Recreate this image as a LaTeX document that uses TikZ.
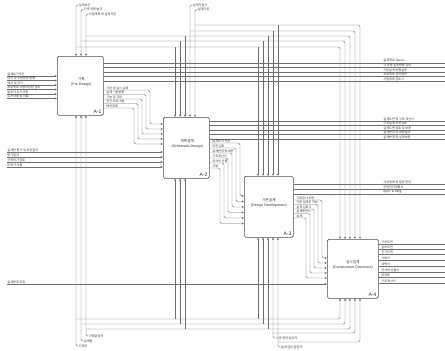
\documentclass[tikz,border=0pt]{standalone}
\usepackage{fontspec}
\setmainfont{Liberation Sans}
\newfontfamily\kr{Noto Sans CJK KR}
\usetikzlibrary{arrows.meta,calc}
\definecolor{lc}{HTML}{6E6E6E}
\definecolor{bc}{HTML}{4A4A4A}
\definecolor{tc}{HTML}{2E2E2E}
\begin{document}
\begin{tikzpicture}[x=1pt,y=-1pt,
  ln/.style={draw=lc,line width=0.45pt,rounded corners=1.5pt},
  arr/.style={ln,-{Stealth[length=2.4pt,width=2.1pt]}},
  box/.style={draw=bc,line width=0.6pt,rounded corners=1.5pt,fill=white,anchor=north west,inner sep=0pt},
  lab/.style={font=\kr\fontsize{3.1}{3.4}\selectfont,text=tc,inner sep=0.25pt,anchor=south west},
  ttl/.style={font=\fontsize{3.6}{4.6}\selectfont,text=tc,align=center,inner sep=0pt},
  num/.style={font=\fontsize{5}{5}\selectfont,text=tc,inner sep=0pt,anchor=south east}]
\fill[white] (0,0) rectangle (445,351);
\useasboundingbox (0,0) rectangle (445,351);

% activity boxes
\node[box,minimum width=46pt,minimum height=59pt] (b1) at (57,56) {};
\node[box,minimum width=46pt,minimum height=61pt] (b2) at (163,117) {};
\node[box,minimum width=49pt,minimum height=61pt] (b3) at (244,176) {};
\node[box,minimum width=51pt,minimum height=59pt] (b4) at (327,239) {};
\node[ttl] (t1) at ($(b1.center)+(1,-4)$) {{\kr 기획}\\(Pre Design)};
\node[ttl] (t2) at ($(b2.center)+(1,-4)$) {{\kr 계획설계}\\(Schematic Design)};
\node[ttl] (t3) at ($(b3.center)+(0,-4)$) {{\kr 기본설계}\\(Design Development)};
\node[ttl] (t4) at ($(b4.center)+(0,-4)$) {{\kr 실시설계}\\(Construction Document)};
\node[num] (n1) at ($(b1.south east)+(-2,-1.5)$) {A-1};
\node[num] (n2) at ($(b2.south east)+(-2,-1.5)$) {A-2};
\node[num] (n3) at ($(b3.south east)+(-2,-1.5)$) {A-3};
\node[num] (n4) at ($(b4.south east)+(-2,-1.5)$) {A-4};

% inputs of A1
\foreach \i/\y/\t in {1/76/설계요구조건,2/80.5/대지 및 주변환경 현황,3/85/예산 및 공기,4/89.5/프로젝트 사업타당성 검토,5/94/발주자 요구사항,6/98.5/유사사례 및 자료}{
  \node[lab] (ia\i) at (7,\y) {\t};
  \draw[arr] (ia\i.south west) -- (ia\i.south west -| b1.west);
}
% controls of A1
\foreach \i/\x/\y/\t in {1/76/5/설계요건,2/81/9.5/건축 관련 법규,3/86/14/사업계획 및 설계지침}{
  \node[lab,anchor=west] (ca\i) at (\x+2.5,\y) {\t};
  \draw[arr] (ca\i.west) -| (\x,0 |- b1.north);
}
% mechanisms of A1
\foreach \i/\x/\y/\t in {1/76/346/건축주,2/81/341/설계팀,3/86/336/기획담당자}{
  \node[lab,anchor=west] (ma\i) at (\x+2.5,\y) {\t};
  \draw[arr] (ma\i.west) -| (\x,0 |- b1.south);
}
% controls of A2 from top labels
\foreach \i/\x/\y/\t in {4/190/5/설계지침서,5/195/9.5/설계기준}{
  \node[lab,anchor=west] (cb\i) at (\x+2.5,\y) {\t};
  \draw[arr] (cb\i.west) -| (\x,0 |- b2.north);
}
% shared control lines
\foreach \y/\xs/\xa/\xb/\xc in {47/76/175/258/340,41/81/180/263/345,36/86/185/268/350}{
  \coordinate (ts\y) at (\xs,\y);
  \draw[arr] (ts\y) -| (\xc,0 |- b4.north);
  \draw[arr] (\xa,\y) -- (\xa,0 |- b2.north);
  \draw[arr] (\xb,\y) -- (\xb,0 |- b3.north);
}
\foreach \y/\xs/\xb/\xc in {31/190/273/355,25/195/278/360}{
  \coordinate (tu\y) at (\xs,\y);
  \draw[arr] (tu\y) -| (\xc,0 |- b4.north);
  \draw[arr] (\xb,\y) -- (\xb,0 |- b3.north);
}
% shared mechanism lines
\foreach \y/\xs/\xa/\xb/\xc in {319/76/175/258/340,324/81/180/263/345,329/86/185/268/350}{
  \coordinate (bs\y) at (\xs,\y);
  \draw[arr] (bs\y) -| (\xc,0 |- b4.south);
  \draw[arr] (\xa,\y) -- (\xa,0 |- b2.south);
  \draw[arr] (\xb,\y) -- (\xb,0 |- b3.south);
}
\foreach \i/\x/\y/\yh/\xc/\t in {4/273/338/333/355/시공 현장 담당자,5/278/347/342/360/설계 감리 담당자}{
  \node[lab,anchor=west] (mc\i) at (\x+2.5,\y) {\t};
  \draw[arr] (mc\i.west) -| (\x,0 |- b3.south);
  \coordinate (bm\i) at (\x,\yh);
  \draw[arr] (bm\i) -| (\xc,0 |- b4.south);
}

% outputs of A1 to the right edge
\foreach \i/\y/\t in {1/63/설계개요 (Spec),2/67.5/각 공종 설계방향 검토,3/72/기본설계 방향설정,4/76.5/프로젝트 관리방안,5/81/사업계획 검토서}{
  \node[lab] (oa\i) at (383,\y) {\t};
  \draw[ln] (b1.east |- oa\i.south west) -- (445,0 |- oa\i.south west);
}
% outputs of A1 feeding A2
\foreach \i/\y/\xv/\yi/\t in {1/90/150/124/기본 및 실시 설계,2/94.5/146/129/설계 기본방향,3/99/142/134/기능 및 규모,4/103.5/138/139/공간 프로그램,5/108/134/144/배치계획}{
  \node[lab] (pa\i) at (106,\y) {\t};
  \draw[arr] (b1.east |- pa\i.south west) -| (\xv,\yi) -- (\xv,\yi -| b2.west);
}
% left inputs of A2
\foreach \i/\y/\t in {6/152/설계안 평가 및 조정결과,7/157/평가결과,8/162/건축허가 검토,9/167/인허가 서류}{
  \node[lab] (ib\i) at (7,\y) {\t};
  \draw[arr] (ib\i.south west) -- (ib\i.south west -| b2.west);
}
% outputs of A2 to the right edge
\foreach \i/\y/\t in {1/121/설계도면 및 구조 계산서,2/125.5/구조설계 도면검토,3/130/설계도면 검토 및 보완,4/134.5/설계변경 및 보완결과,5/139/설계변경 및 설계보완}{
  \node[lab] (ob\i) at (383,\y) {\t};
  \draw[ln] (b2.east |- ob\i.south west) -- (445,0 |- ob\i.south west);
}
% outputs of A2 feeding A3
\foreach \i/\y/\xv/\yi/\t in {1/143/240/196/설계도서 작성,2/148/236/201.5/도면 검토,3/153/232/207/설계변경 및 보완,4/158/228/212.5/구조계산서,5/163/224/218/공사비 산출,6/168/220/223.5/시방}{
  \node[lab] (pb\i) at (212,\y) {\t};
  \draw[arr] (b2.east |- pb\i.south west) -| (\xv,\yi) -- (\xv,\yi -| b3.west);
}
% outputs of A3 to the right edge
\foreach \i/\y/\t in {1/184/시공계획 및 일정 관리,2/189/공정관리계획서,3/194/Appr. \& Bldg.}{
  \node[lab] (oc\i) at (383,\y) {\t};
  \draw[ln] (b3.east |- oc\i.south west) -- (445,0 |- oc\i.south west);
}
% outputs of A3 feeding A4
\foreach \i/\y/\xv/\yi/\t in {1/200/322/258/기초공사 도면,2/204.5/318/263/기본 설계도 작성,3/209/314/268/설계 검토서,4/213.5/310/273/설계변경서,5/218/306/278/설계}{
  \node[lab] (pc\i) at (296,\y) {\t};
  \draw[arr] (b3.east |- pc\i.south west) -| (\xv,\yi) -- (\xv,\yi -| b4.west);
}
% left input of A4
\node[lab] (id1) at (7,284) {설계변경 요청};
\draw[arr] (id1.south west) -- (id1.south west -| b4.west);
% outputs of A4
\foreach \i/\y/\t in {1/244/구조도면,2/249/설비도면,3/254/전기도면,4/260/시방서,5/266/내역서,6/272/공사비 산출서,7/277/공정표,8/283/구조계산서}{
  \node[lab] (od\i) at (381,\y) {\t};
  \draw[ln] (b4.east |- od\i.south west) -- (445,0 |- od\i.south west);
}
\end{tikzpicture}
\end{document}
